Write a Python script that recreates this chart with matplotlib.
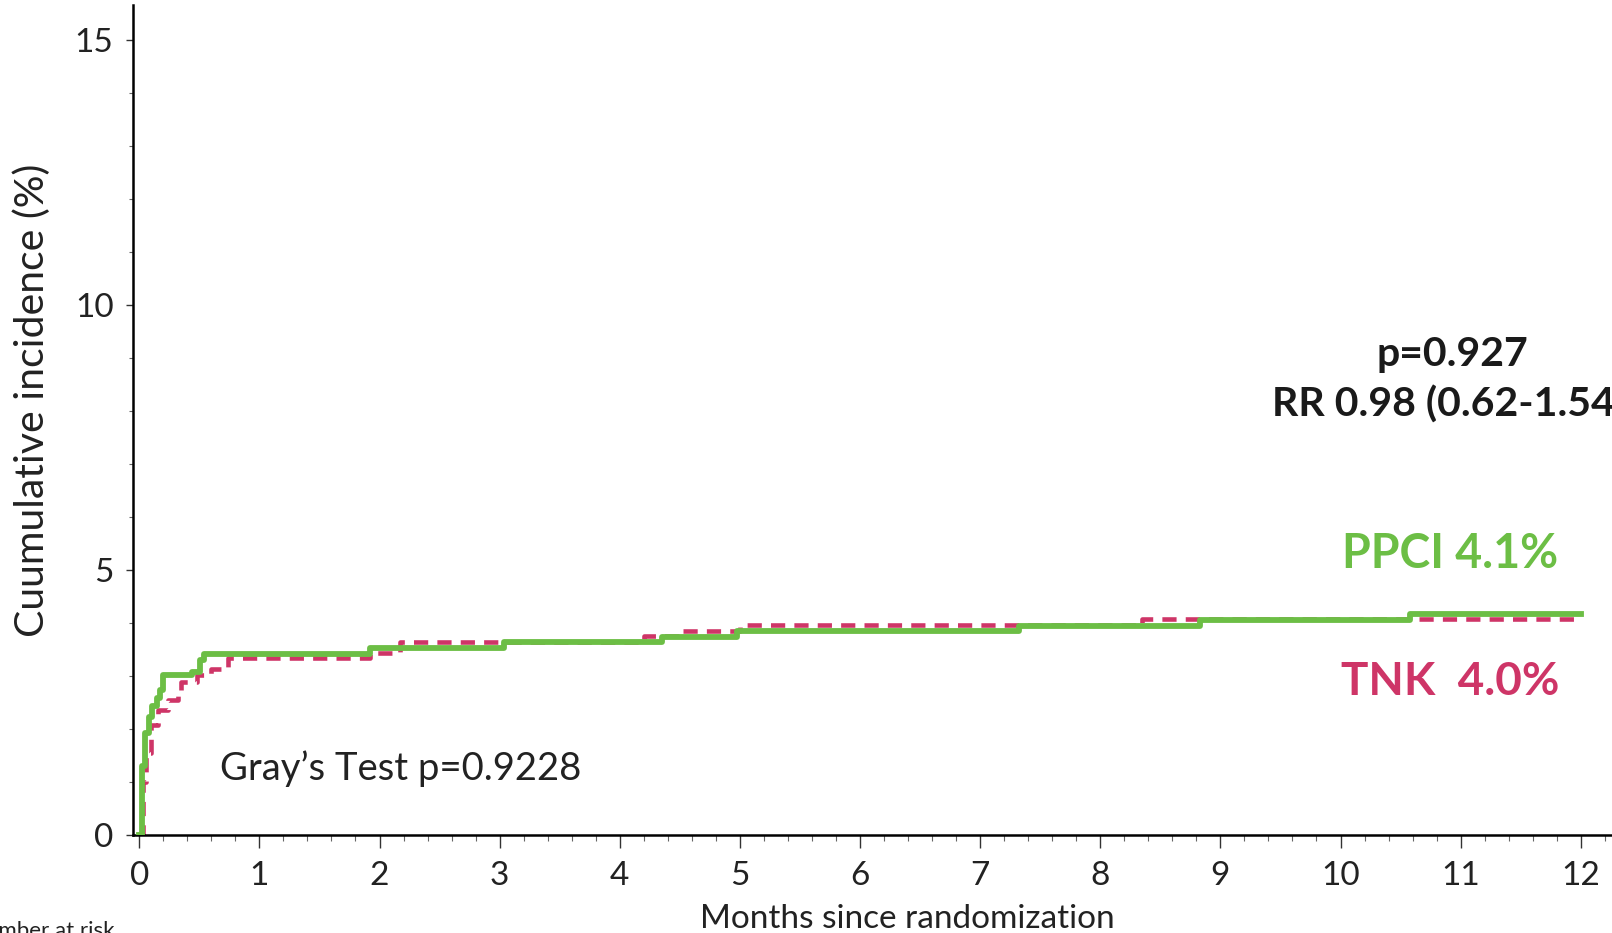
import matplotlib
matplotlib.use('Agg')
import matplotlib.pyplot as plt
from matplotlib.ticker import MultipleLocator

plt.rcParams['font.family'] = ['Lato', 'DejaVu Sans']

# cumulative incidence (%), step changes in months
ppci_months = [0, 0.02, 0.047, 0.081, 0.11, 0.145, 0.172, 0.2, 0.436, 0.505, 0.539,
               1.92, 3.04, 4.35, 4.98, 7.32, 8.83, 10.58, 12.0]
ppci_incidence = [0, 1.30, 1.92, 2.22, 2.44, 2.58, 2.74, 3.02, 3.08, 3.30, 3.42,
                  3.53, 3.64, 3.74, 3.85, 3.95, 4.06, 4.17, 4.17]

tnk_months = [0, 0.03, 0.06, 0.10, 0.16, 0.24, 0.325, 0.35, 0.48, 0.60, 0.74,
              1.92, 2.17, 4.2, 4.5, 5.0, 8.35, 12.0]
tnk_incidence = [0, 1.0, 1.55, 2.07, 2.36, 2.55, 2.70, 2.89, 3.02, 3.13, 3.34,
                 3.44, 3.65, 3.76, 3.85, 3.97, 4.08, 4.08]

x_ticks = list(range(0, 13))
y_ticks = [0, 5, 10, 15]

green = '#6cbe45'
pink = '#ce3567'

W, H = 1612, 933
fig = plt.figure(figsize=(W / 100, H / 100), dpi=100)
ax = fig.add_axes([133 / W, 1 - 835 / H, 1 - 133 / W, (835 - 5) / H])

ax.step(tnk_months, tnk_incidence, where='post', color=pink, lw=3.3,
        dashes=(3.1, 2.0), zorder=2)
ax.step(ppci_months, ppci_incidence, where='post', color=green, lw=4.2, zorder=3)

ax.set_xlim(-0.052, 12.26)
ax.set_ylim(0, 15.66)
ax.set_xticks(x_ticks)
ax.set_yticks(y_ticks)
ax.xaxis.set_minor_locator(MultipleLocator(0.2))
ax.yaxis.set_minor_locator(MultipleLocator(1))

for s in ['top', 'right']:
    ax.spines[s].set_visible(False)
for s in ['left', 'bottom']:
    ax.spines[s].set_linewidth(1.8)
    ax.spines[s].set_color('black')

ax.tick_params(axis='x', which='major', direction='out', length=9, width=1,
               pad=10, labelsize=24, color='#333333', labelcolor='#222222')
ax.tick_params(axis='x', which='minor', direction='out', length=4.5, width=0.8,
               color='#666666')
ax.tick_params(axis='y', which='major', direction='out', length=5, width=1,
               pad=9, labelsize=24, color='#333333', labelcolor='#222222')
ax.tick_params(axis='y', which='minor', direction='out', length=3, width=0.8,
               color='#666666')


def px(x, y):
    return x / W, 1 - y / H


fig.text(*px(32, 400), 'Cuumulative incidence (%)', rotation=90, ha='center',
         va='center', fontsize=29.5, color='#222222')
fig.text(*px(907, 928), 'Months since randomization', ha='center', va='baseline',
         fontsize=24, color='#222222')
fig.text(*px(115, 937), 'Number at risk', ha='right', va='baseline',
         fontsize=16, color='#222222')

fig.text(*px(220, 780), 'Gray\u2019s Test p=0.9228', ha='left', va='baseline',
         fontsize=27.5, color='#222222')
fig.text(*px(1452, 366), 'p=0.927', ha='center', va='baseline',
         fontsize=29.5, fontweight='bold', color='#1a1a1a')
fig.text(*px(1272, 417), 'RR 0.98 (0.62-1.54', ha='left', va='baseline',
         fontsize=29.5, fontweight='bold', color='#1a1a1a')
fig.text(*px(1342, 568), 'PPCI 4.1%', ha='left', va='baseline',
         fontsize=33.5, fontweight='bold', color=green)
fig.text(*px(1341, 695), 'TNK  4.0%', ha='left', va='baseline',
         fontsize=33, fontweight='bold', color=pink)

fig.savefig('out.png', dpi=100)
